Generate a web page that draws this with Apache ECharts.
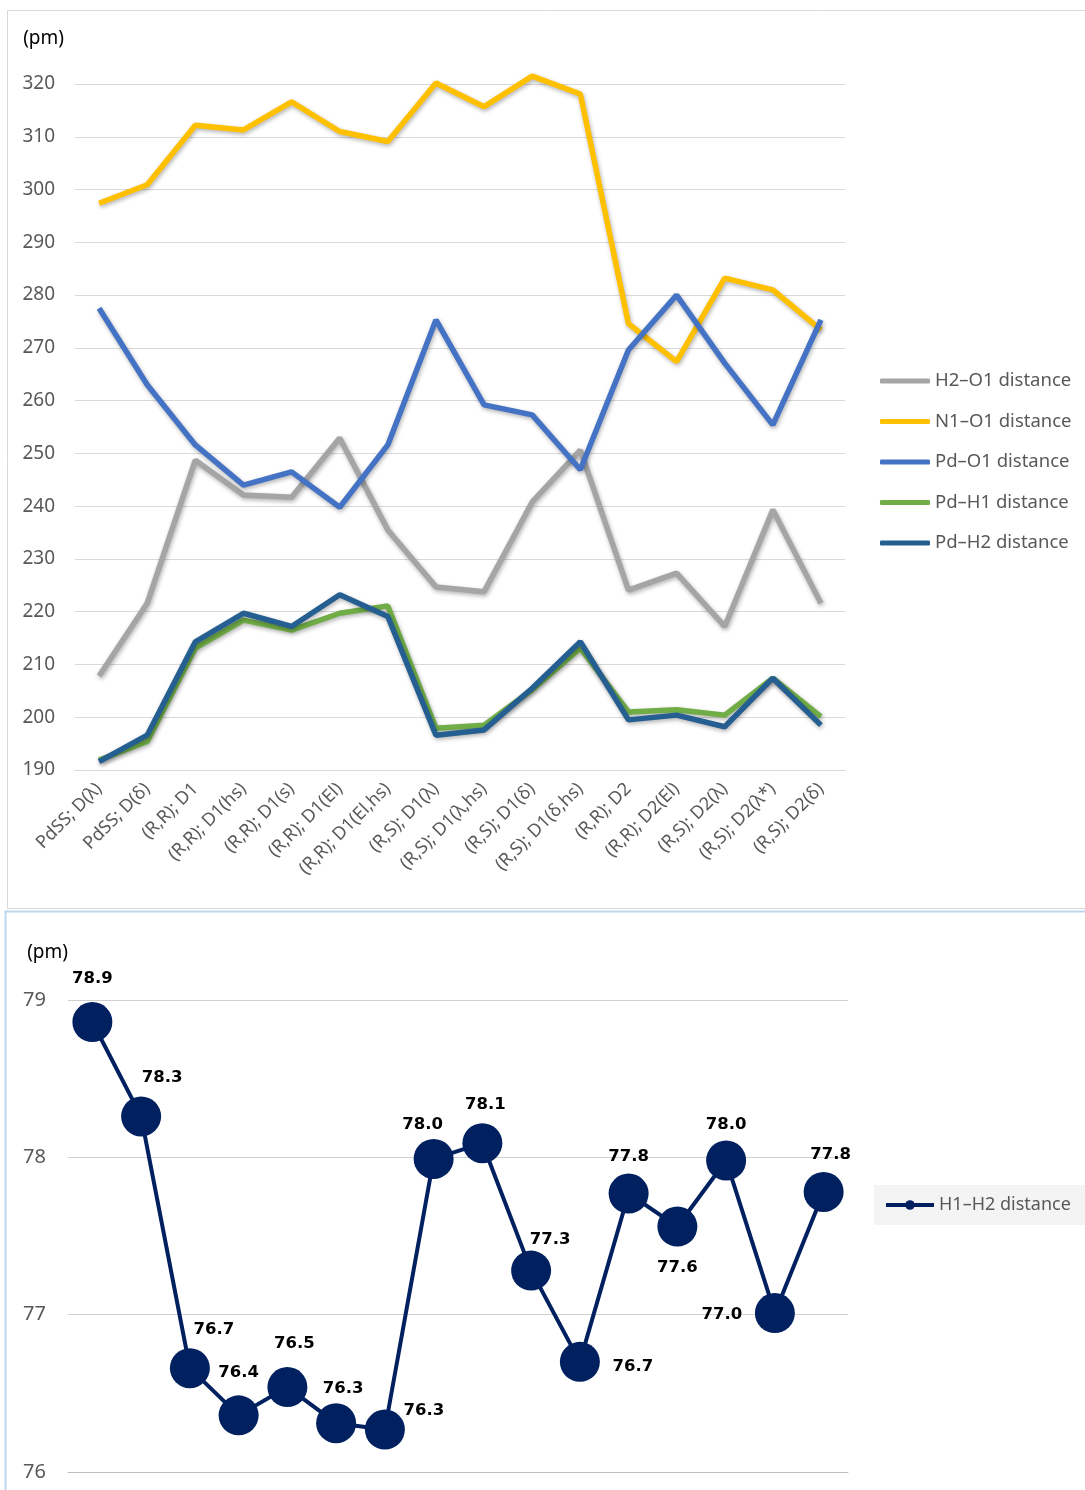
<!DOCTYPE html>
<html>
<head>
<meta charset="utf-8">
<script src="https://cdn.jsdelivr.net/npm/echarts@6/dist/echarts.min.js"></script>
<style>
  html, body { margin: 0; padding: 0; background: #fff; }
  #chart { width: 1085px; height: 1490px; }
</style>
</head>
<body>
<div id="chart"></div>
<script>
// categories (shared by both panels)
const configs = ['PdSS; D(λ)', 'PdSS; D(δ)', '(R,R); D1', '(R,R); D1(hs)', '(R,R); D1(s)',
  '(R,R); D1(El)', '(R,R); D1(El,hs)', '(R,S); D1(λ)', '(R,S); D1(λ,hs)', '(R,S); D1(δ)',
  '(R,S); D1(δ,hs)', '(R,R); D2', '(R,R); D2(El)', '(R,S); D2(λ)', '(R,S); D2(λ*)', '(R,S); D2(δ)'];

// top panel, pm
const h2o1 = [207.8, 221.6, 248.7, 242.1, 241.7, 252.9, 235.5, 224.7, 223.8, 240.8, 250.6, 224.1, 227.3, 217.2, 239.3, 221.6];
const n1o1 = [297.4, 300.9, 312.2, 311.3, 316.6, 311.0, 309.1, 320.2, 315.7, 321.5, 318.1, 274.6, 267.4, 283.2, 281.0, 273.4];
const pdo1 = [277.5, 263.0, 251.6, 244.0, 246.5, 239.8, 251.6, 275.3, 259.2, 257.3, 246.9, 269.6, 280.0, 267.1, 255.4, 275.3];
const pdh1 = [191.9, 195.4, 213.1, 218.4, 216.5, 219.7, 221.1, 197.9, 198.5, 205.2, 213.1, 201.0, 201.4, 200.4, 207.4, 200.1];
const pdh2 = [191.6, 196.6, 214.3, 219.7, 217.2, 223.2, 219.1, 196.6, 197.6, 205.5, 214.3, 199.5, 200.4, 198.2, 207.4, 198.5];

// bottom panel, pm
const h1h2 = [78.86, 78.26, 76.66, 76.36, 76.54, 76.31, 76.27, 77.99, 78.09, 77.28, 76.70, 77.77, 77.56, 77.98, 77.01, 77.78];

const txt = '#595959';
const font = 'Noto Sans';

// where each value label sits relative to its marker
const labelShift = [[0, -43], [21, -39], [24, -38], [0, -43], [7, -43], [7, -35], [39, -19], [-11, -34],
  [3, -38], [19, -31], [53, 5], [0, -37], [0, 41], [0, -36], [-53, 2], [7, -37]];

const chart = echarts.init(document.getElementById('chart'));

const shadow = { shadowColor: 'rgba(0,0,0,0.3)', shadowBlur: 4, shadowOffsetX: 1, shadowOffsetY: 2 };

function topLine(name, data, color) {
  return {
    name: name,
    type: 'line',
    xAxisIndex: 0,
    yAxisIndex: 0,
    data: data,
    showSymbol: false,
    symbol: 'none',
    clip: false,
    lineStyle: Object.assign({ width: 5.5, color: color }, shadow),
    itemStyle: { color: color },
    emphasis: { disabled: true }
  };
}

const option = {
  animation: false,
  backgroundColor: '#fff',
  textStyle: { fontFamily: font },
  graphic: [
    { type: 'rect', shape: { x: 7.5, y: 10.5, width: 1090, height: 898 }, style: { fill: 'none', stroke: '#d9d9d9', lineWidth: 1 }, silent: true },
    { type: 'rect', shape: { x: 5.5, y: 911.5, width: 1090, height: 600 }, style: { fill: 'none', stroke: '#bdd7ee', lineWidth: 2 }, silent: true }
  ],
  legend: [
    {
      data: ['H2–O1 distance', 'N1–O1 distance', 'Pd–O1 distance', 'Pd–H1 distance', 'Pd–H2 distance'],
      orient: 'vertical',
      left: 875,
      top: 366,
      itemWidth: 50,
      itemHeight: 5,
      itemGap: 20.5,
      icon: 'roundRect',
      textStyle: { color: txt, fontSize: 18.5, fontFamily: font, lineHeight: 20 }
    },
    {
      data: ['H1–H2 distance'],
      orient: 'vertical',
      left: 874,
      top: 1185,
      padding: [10, 16, 10, 10],
      backgroundColor: '#f4f4f4',
      itemWidth: 48,
      itemHeight: 12,
      lineStyle: { width: 4 },
      textStyle: { color: txt, fontSize: 18, fontFamily: font, lineHeight: 20 }
    }
  ],
  grid: [
    { left: 75, right: 240, top: 84, bottom: 720 },
    { left: 68, right: 237, top: 1000, bottom: 18 }
  ],
  xAxis: [
    {
      type: 'category',
      gridIndex: 0,
      data: configs,
      boundaryGap: true,
      axisLine: { lineStyle: { color: '#d9d9d9' } },
      axisTick: { show: false },
      axisLabel: { rotate: 45, color: txt, fontSize: 18, margin: 16, interval: 0, fontFamily: font }
    },
    {
      type: 'category',
      gridIndex: 1,
      data: configs,
      boundaryGap: true,
      axisLine: { lineStyle: { color: '#bfbfbf' } },
      axisTick: { show: false },
      axisLabel: { show: false }
    }
  ],
  yAxis: [
    {
      type: 'value',
      gridIndex: 0,
      min: 190,
      max: 320,
      interval: 10,
      name: '(pm)',
      nameLocation: 'end',
      nameGap: 36,
      nameTextStyle: { color: '#000', fontSize: 19, align: 'right', padding: [0, 11, 0, 0], fontFamily: font },
      axisLine: { show: false },
      axisTick: { show: false },
      axisLabel: { color: txt, fontSize: 19, margin: 20, fontFamily: font },
      splitLine: { lineStyle: { color: '#d9d9d9' } }
    },
    {
      type: 'value',
      gridIndex: 1,
      min: 76,
      max: 79,
      interval: 1,
      name: '(pm)',
      nameLocation: 'end',
      nameGap: 38,
      nameTextStyle: { color: '#000', fontSize: 19, align: 'right', padding: [0, 0, 0, 0], fontFamily: font },
      axisLine: { show: false },
      axisTick: { show: false },
      axisLabel: { color: txt, fontSize: 20, margin: 22, fontFamily: font },
      splitLine: { lineStyle: { color: '#d0d0d0' } }
    }
  ],
  series: [
    topLine('H2–O1 distance', h2o1, '#a5a5a5'),
    topLine('N1–O1 distance', n1o1, '#ffc000'),
    topLine('Pd–O1 distance', pdo1, '#4472c4'),
    topLine('Pd–H1 distance', pdh1, '#70ad47'),
    topLine('Pd–H2 distance', pdh2, '#255e91'),
    {
      name: 'H1–H2 distance',
      type: 'line',
      xAxisIndex: 1,
      yAxisIndex: 1,
      data: h1h2.map((v, i) => ({
        value: v,
        label: { offset: labelShift[i] }
      })),
      symbol: 'circle',
      symbolSize: 40,
      showSymbol: true,
      showAllSymbol: true,
      clip: false,
      lineStyle: { width: 4, color: '#002060' },
      itemStyle: { color: '#002060' },
      label: {
        show: true,
        position: 'inside',
        color: '#000',
        fontWeight: 'bold',
        fontSize: 16.5,
        fontFamily: 'DejaVu Sans',
        formatter: p => p.value.toFixed(1)
      },
      emphasis: { disabled: true }
    }
  ]
};

chart.setOption(option);
</script>
</body>
</html>
